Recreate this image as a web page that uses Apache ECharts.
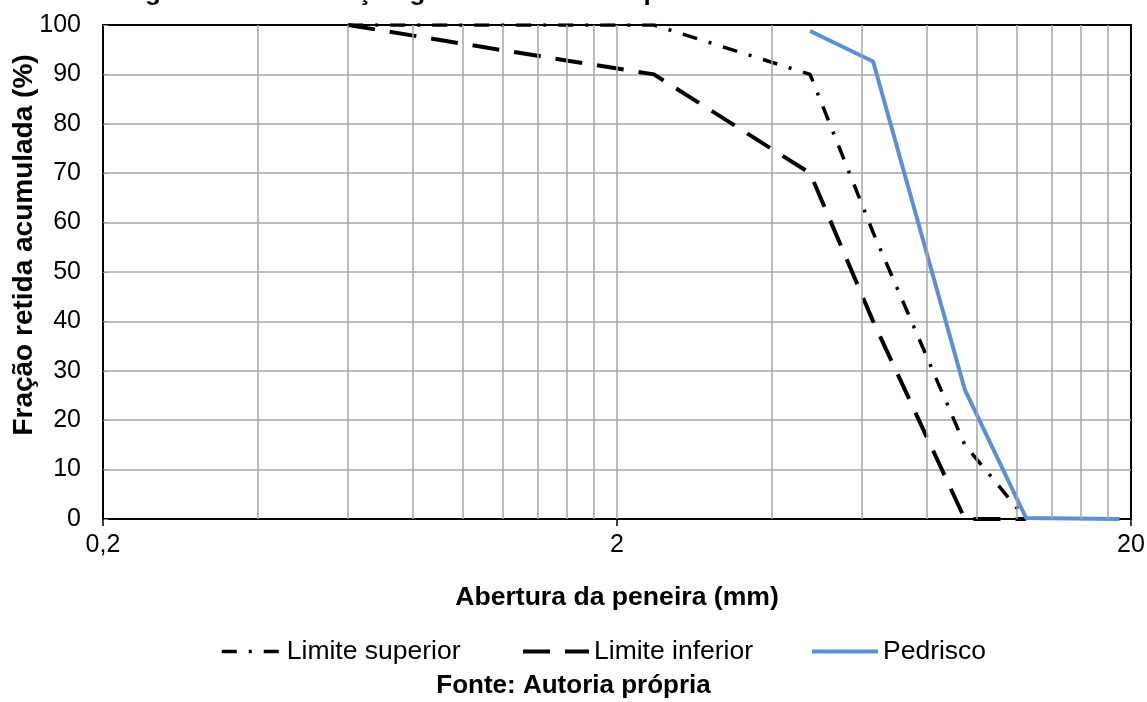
<!DOCTYPE html>
<html>
<head>
<meta charset="utf-8">
<script src="https://cdn.jsdelivr.net/npm/echarts@6/dist/echarts.min.js"></script>
<style>
  html, body { margin: 0; padding: 0; background: #fff; }
</style>
</head>
<body>
<div id="chart" style="width: 1147px; height: 702px;"></div>
<script>
  // abertura das peneiras (mm) e fração retida acumulada (%)
  const limSupX = [0.6, 1.18, 2.36, 4.75, 6.3, 9.5, 12.5];
  const limSupY = [100, 100, 100, 90, 58, 15, 0];
  const limInfX = [0.6, 1.18, 2.36, 4.75, 6.3, 9.5, 12.5];
  const limInfY = [100, 95, 90, 70, 40, 0, 0];
  const pedriscoX = [4.75, 6.3, 9.5, 12.5, 19];
  const pedriscoY = [98.8, 92.6, 26.2, 0.2, 0];

  const xTicks = [0.2, 2, 20];
  const gridX = [0.4, 0.6, 0.8, 1, 1.2, 1.4, 1.6, 1.8, 2, 4, 6, 8, 10, 12, 14, 16, 18];

  const pairs = (xs, ys) => xs.map((x, i) => [x, ys[i]]);

  const chart = echarts.init(document.getElementById('chart'));
  const font = 'Liberation Sans, Arial, sans-serif';

  const dashSup = [15, 12, 3, 12];
  const dashInf = [27, 15];
  const azul = '#5b8fd6';

  const legendText = { fontSize: 26.5, color: '#000', fontFamily: font };

  const option = {
    animation: false,
    textStyle: { fontFamily: font, color: '#000' },
    grid: {
      left: 103, right: 16, top: 25, bottom: 183,
      containLabel: false,
      outerBoundsMode: 'none',
      show: true, borderColor: '#000', borderWidth: 2, backgroundColor: '#fff'
    },
    legend: [
      { data: ['Limite superior'], left: 215, top: 633, itemWidth: 60, itemHeight: 14,
        itemStyle: { opacity: 0 },
        lineStyle: { color: '#000', width: 3.5, type: dashSup },
        textStyle: legendText },
      { data: ['Limite inferior'], left: 516, top: 633, itemWidth: 66, itemHeight: 14, itemGap: 0,
        itemStyle: { opacity: 0 },
        lineStyle: { color: '#000', width: 4, type: dashInf },
        textStyle: legendText },
      { data: ['Pedrisco'], left: 805, top: 633, itemWidth: 66, itemHeight: 14,
        itemStyle: { opacity: 0 },
        lineStyle: { color: azul, width: 4 },
        textStyle: legendText }
    ],
    xAxis: {
      type: 'log',
      logBase: 10,
      min: 0.2,
      max: 20,
      name: 'Abertura da peneira (mm)',
      nameLocation: 'middle',
      nameGap: 65,
      nameTextStyle: { fontSize: 26.6, fontWeight: 'bold', color: '#000', fontFamily: font },
      axisLine: { onZero: false, lineStyle: { color: '#000', width: 2 } },
      axisTick: { customValues: xTicks, length: 7, lineStyle: { color: '#000', width: 1.5 } },
      axisLabel: {
        customValues: xTicks,
        fontSize: 25, color: '#000', margin: 14,
        formatter: v => String(Number(v.toPrecision(6))).replace('.', ',')
      },
      splitLine: { show: false },
      minorTick: { show: false }
    },
    yAxis: {
      type: 'value',
      min: 0,
      max: 100,
      interval: 10,
      name: 'Fração retida acumulada (%)',
      nameLocation: 'middle',
      nameGap: 65,
      nameMoveOverlap: false,
      nameTextStyle: { fontSize: 28, fontWeight: 'bold', color: '#000', fontFamily: font, padding: [0, 0, 0, 54] },
      axisLine: { show: true, lineStyle: { color: '#000', width: 2 } },
      axisTick: { show: true, inside: true, length: 5, lineStyle: { color: '#999' } },
      axisLabel: { fontSize: 25, color: '#000', margin: 22 },
      splitLine: { show: true, showMinLine: false, showMaxLine: false, lineStyle: { color: '#a6a6a6', width: 1.5 } }
    },
    series: [
      {
        name: 'grade',
        type: 'line',
        data: [],
        z: 1,
        silent: true,
        markLine: {
          silent: true,
          symbol: 'none',
          label: { show: false },
          lineStyle: { color: '#a6a6a6', width: 1.5, type: 'solid' },
          data: gridX.map(v => ({ xAxis: v }))
        }
      },
      {
        name: 'Limite superior',
        type: 'line',
        data: pairs(limSupX, limSupY),
        symbol: 'none',
        z: 3,
        color: '#000',
        lineStyle: { color: '#000', width: 3.5, type: dashSup }
      },
      {
        name: 'Limite inferior',
        type: 'line',
        data: pairs(limInfX, limInfY),
        symbol: 'none',
        z: 3,
        color: '#000',
        lineStyle: { color: '#000', width: 4, type: dashInf }
      },
      {
        name: 'Pedrisco',
        type: 'line',
        data: pairs(pedriscoX, pedriscoY),
        symbol: 'none',
        z: 4,
        color: azul,
        lineStyle: { color: azul, width: 4 }
      }
    ],
    graphic: [{
      type: 'text',
      left: 122,
      top: -20,
      style: {
        text: 'Figura 8 – Distribuição granulométrica do pedrisco',
        font: 'bold 26px ' + font,
        fill: '#000'
      }
    }, {
      type: 'text',
      left: 'center',
      top: 673,
      style: {
        text: 'Fonte: Autoria própria',
        font: 'bold 26px ' + font,
        fill: '#000'
      }
    }]
  };

  chart.setOption(option);
</script>
</body>
</html>
